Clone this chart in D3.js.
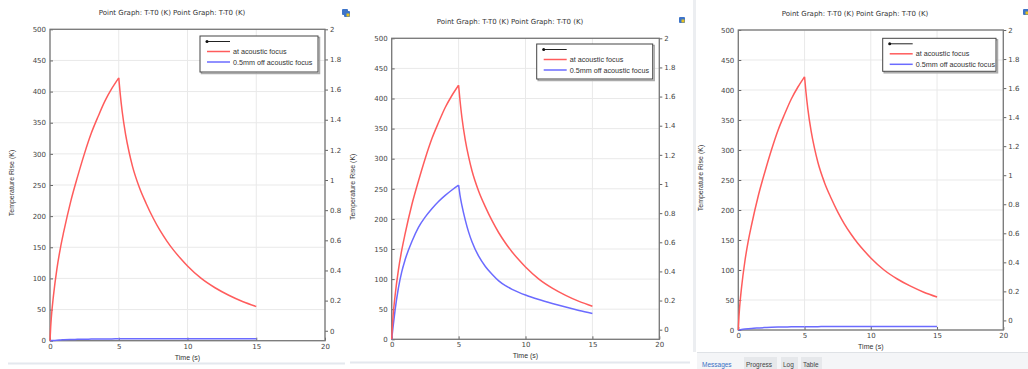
<!DOCTYPE html>
<html>
<head>
<meta charset="utf-8">
<script src="https://cdn.jsdelivr.net/npm/d3@7"></script>
<style>
  html, body { margin: 0; padding: 0; background: #fff; }
  svg { display: block; }
</style>
</head>
<body>
<svg id="chart" width="1028" height="369"></svg>
<script>
// ---------------- DATA ----------------
const time = [0, 0.05, 0.1, 0.25, 0.5, 0.75, 1, 1.5, 2, 2.5, 3, 3.5, 4, 4.5, 5,
              5.1, 5.25, 5.5, 5.75, 6, 6.5, 7, 7.5, 8, 8.5, 9, 9.5, 10, 11, 12, 13, 14, 15];
const peakTime = 5;
// "at acoustic focus" (same in all three panels)
const atFocus = [0, 22, 38, 72, 115, 148, 175, 223, 263, 300, 333, 360, 385, 405, 422,
                 398, 368, 331, 303, 280, 246, 220, 197, 177, 160, 145, 132, 120, 100, 85, 73, 63, 55];
// "0.5mm off acoustic focus" for each panel
const offFocusA = [0, 0.1, 0.2, 0.5, 0.9, 1.2, 1.5, 1.9, 2.2, 2.4, 2.6, 2.7, 2.8, 2.9, 3,
                   3, 3, 3, 3, 3, 3, 3, 3, 3, 3, 3, 3, 3, 3, 3, 3, 3, 3];
const offFocusB = [0, 10, 20, 48, 85, 112, 132, 162, 186, 203, 217, 229, 239, 248, 256,
                   240, 222, 198, 178, 162, 138, 121, 108, 97, 89, 83, 78, 73.5, 66, 59.5, 53.5, 48, 43];
const offFocusC = [0, 0.2, 0.4, 0.9, 1.6, 2.2, 2.7, 3.4, 4.0, 4.5, 4.8, 5.1, 5.3, 5.4, 5.5,
                   5.5, 5.5, 5.6, 5.6, 5.6, 5.7, 5.7, 5.7, 5.8, 5.8, 5.8, 5.8, 5.8, 5.9, 5.9, 6, 6, 6];
const xTicks = [0, 5, 10, 15, 20];
const yTicks = [0, 50, 100, 150, 200, 250, 300, 350, 400, 450, 500];
const y2Ticks = [0, 0.2, 0.4, 0.6, 0.8, 1, 1.2, 1.4, 1.6, 1.8, 2];
const titleText = "Point Graph: T-T0 (K)  Point Graph: T-T0 (K)";
const xLabel = "Time (s)";
const yLabel = "Temperature Rise (K)";
const legendLabels = ["", "at acoustic focus", "0.5mm off acoustic focus"];
const tabLabels = ["Messages", "Progress", "Log", "Table"];

// ---------------- LAYOUT ----------------
const panels = [
  { off: offFocusA, L: 50, R: 325, T: 29.3, B: 340.7, titleX: 172, titleY: 15, ylabX: 14,
    xlabY: 360, leg: [200, 36, 118, 36] },
  { off: offFocusB, L: 391.7, R: 659.3, T: 38.3, B: 339.3, titleX: 510, titleY: 24, ylabX: 355,
    xlabY: 357.5, leg: [536.7, 44, 116, 35] },
  { off: offFocusC, L: 738.3, R: 1003.3, T: 30, B: 330, titleX: 855, titleY: 16, ylabX: 703,
    xlabY: 348.5, leg: [882.7, 38.3, 113.3, 33] }
];
const legRowOff = [5.5, 15.5, 26];
const redColor = "#ff5c5c", blueColor = "#6b6bff";
const wide = "'DejaVu Sans', sans-serif";
const narrow = "'Liberation Sans', Arial, sans-serif";

const svg = d3.select("#chart");

// ---------- background UI bits ----------
svg.append("line").attr("x1", 8).attr("x2", 345).attr("y1", 363.5).attr("y2", 363.5)
  .attr("stroke", "#e4e8ee").attr("stroke-width", 2);
svg.append("line").attr("x1", 350).attr("x2", 690).attr("y1", 362.5).attr("y2", 362.5)
  .attr("stroke", "#e4e8ee").attr("stroke-width", 2);
svg.append("rect").attr("x", 693).attr("y", 0).attr("width", 3).attr("height", 352)
  .attr("fill", "#eceef1");
svg.append("rect").attr("x", 697).attr("y", 352).attr("width", 331).attr("height", 17)
  .attr("fill", "#f4f5f7");
svg.append("line").attr("x1", 697).attr("x2", 1028).attr("y1", 352.5).attr("y2", 352.5)
  .attr("stroke", "#dfe2e6");
const tabX = [700, 744, 781, 801], tabW = [40, 33, 17, 21];
tabLabels.forEach((t, i) => {
  if (i > 0) svg.append("rect").attr("x", tabX[i]).attr("y", 357).attr("width", tabW[i]).attr("height", 12)
    .attr("fill", "#e6e8eb");
  svg.append("text").attr("x", tabX[i] + 2).attr("y", 367).style("font-size", "6.5px")
    .style("font-family", narrow).attr("fill", i === 0 ? "#3a6fc4" : "#444").text(t);
});
function icon(x, y) {
  const g = svg.append("g").attr("transform", `translate(${x},${y})`);
  g.append("rect").attr("width", 6).attr("height", 6).attr("rx", 1).attr("fill", "#3d74c9");
  g.append("rect").attr("x", 2.5).attr("y", 2.5).attr("width", 3).attr("height", 3).attr("fill", "#e8c21f");
}
icon(342, 9); icon(344, 11); icon(679, 17); icon(1023, 9);

// ---------- panels ----------
panels.forEach(p => {
  const g = svg.append("g");
  const x = d3.scaleLinear().domain([0, 20]).range([p.L, p.R]);
  const y = d3.scaleLinear().domain([0, 500]).range([p.B, p.T]);
  const y2 = d3.scaleLinear().domain([-0.066, 2]).range([p.B, p.T]);

  // grid
  g.append("g").selectAll("line").data(xTicks).join("line")
    .attr("x1", d => x(d)).attr("x2", d => x(d)).attr("y1", p.T).attr("y2", p.B)
    .attr("stroke", "#e9e9e9").attr("stroke-width", 1);
  g.append("g").selectAll("line").data(yTicks).join("line")
    .attr("x1", p.L).attr("x2", p.R).attr("y1", d => y(d)).attr("y2", d => y(d))
    .attr("stroke", "#e9e9e9").attr("stroke-width", 1);

  // axes
  const ax = g.append("g").attr("transform", `translate(0,${p.B})`)
    .call(d3.axisBottom(x).tickValues(xTicks).tickSize(-3).tickPadding(3).tickFormat(d3.format("d")));
  const ay = g.append("g").attr("transform", `translate(${p.L},0)`)
    .call(d3.axisLeft(y).tickValues(yTicks).tickSize(-3).tickPadding(4).tickFormat(d3.format("d")));
  const ay2 = g.append("g").attr("transform", `translate(${p.R},0)`)
    .call(d3.axisRight(y2).tickValues(y2Ticks).tickSize(3).tickPadding(2).tickFormat(d => d3.format("~g")(d)));
  [ax, ay, ay2].forEach(a => {
    a.select(".domain").remove();
    a.selectAll(".tick line").attr("stroke", "#666");
    a.selectAll(".tick text").style("font-size", "7px").attr("fill", "#444").style("font-family", wide);
  });
  // frame
  g.append("rect").attr("x", p.L).attr("y", p.T).attr("width", p.R - p.L).attr("height", p.B - p.T)
    .attr("fill", "none").attr("stroke", "#777").attr("stroke-width", 1.3);

  // lines
  const line = d3.line().x(d => x(d[0])).y(d => y(d[1])).curve(d3.curveMonotoneX);
  const seg = vals => {
    const pts = time.map((t, i) => [t, vals[i]]);
    return [pts.filter(d => d[0] <= peakTime), pts.filter(d => d[0] >= peakTime)];
  };
  seg(p.off).forEach(s => g.append("path").attr("d", line(s)).attr("fill", "none")
    .attr("stroke", blueColor).attr("stroke-width", 1.5));
  seg(atFocus).forEach(s => g.append("path").attr("d", line(s)).attr("fill", "none")
    .attr("stroke", redColor).attr("stroke-width", 1.5));

  // title & labels
  g.append("text").attr("x", p.titleX).attr("y", p.titleY).attr("text-anchor", "middle")
    .style("font-size", "7px").style("font-family", wide).attr("fill", "#333").text(titleText);
  g.append("text").attr("x", (p.L + p.R) / 2).attr("y", p.xlabY).attr("text-anchor", "middle")
    .style("font-size", "7px").style("font-family", narrow).attr("fill", "#333").text(xLabel);
  g.append("text").attr("transform", `translate(${p.ylabX},${(p.T + p.B) / 2 - 2}) rotate(-90)`)
    .attr("text-anchor", "middle").style("font-size", "7px").style("font-family", narrow)
    .attr("fill", "#333").text(yLabel);

  // legend
  const [lx, ly, lw, lh] = p.leg;
  g.append("rect").attr("x", lx + 1.5).attr("y", ly + 1.5).attr("width", lw).attr("height", lh)
    .attr("fill", "none").attr("stroke", "#aaa").attr("stroke-width", 1.5);
  g.append("rect").attr("x", lx).attr("y", ly).attr("width", lw).attr("height", lh)
    .attr("fill", "#fff").attr("stroke", "#444").attr("stroke-width", 1);
  const legColors = ["#222", redColor, blueColor];
  legendLabels.forEach((lab, i) => {
    const yy = ly + legRowOff[i];
    g.append("line").attr("x1", lx + 7).attr("x2", lx + 30).attr("y1", yy).attr("y2", yy)
      .attr("stroke", legColors[i]).attr("stroke-width", i === 0 ? 1 : 1.5);
    if (i === 0) g.append("circle").attr("cx", lx + 7).attr("cy", yy).attr("r", 1.5).attr("fill", "#111");
    if (lab) g.append("text").attr("x", lx + 33).attr("y", yy + 2.5).style("font-size", "7.2px")
      .style("font-family", narrow).attr("fill", "#333").text(lab);
  });
});
</script>
</body>
</html>
